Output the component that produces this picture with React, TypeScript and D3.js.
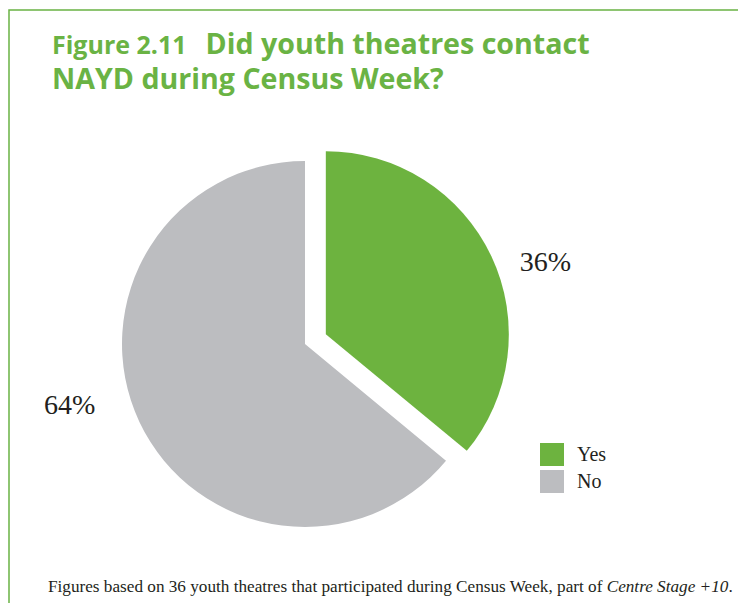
import { useEffect, useRef } from 'react';
import * as d3 from 'd3';

const categories = ['Yes', 'No'];
const values = [36, 64];
const colors = ['#6db33f', '#bcbdc0'];
const titleLead = 'Figure 2.11';
const titleLine1 = 'Did youth theatres contact';
const titleLine2 = 'NAYD during Census Week?';
const noteText = 'Figures based on 36 youth theatres that participated during Census Week, part of ';
const noteItalic = 'Centre Stage +10';

export default function App() {
	const ref = useRef<SVGSVGElement | null>(null);

	useEffect(() => {
		if (!ref.current) return;
		const svg = d3.select(ref.current);
		svg.selectAll('*').remove();

		const green = '#6ab344';

		// frame
		svg.append('path')
			.attr('d', 'M9,603 V10 H738')
			.attr('fill', 'none')
			.attr('stroke', green)
			.attr('stroke-width', 1.5);

		// title
		const title = svg.append('text')
			.attr('x', 52)
			.attr('y', 54)
			.attr('fill', green)
			.attr('font-family', '"Open Sans", sans-serif')
			.attr('font-weight', 700);
		title.append('tspan').attr('font-size', 25).text(titleLead);
		title.append('tspan').attr('dx', 19).attr('font-size', 28.6).text(titleLine1);
		svg.append('text')
			.attr('x', 52)
			.attr('y', 89)
			.attr('fill', green)
			.attr('font-family', '"Open Sans", sans-serif')
			.attr('font-weight', 700)
			.attr('font-size', 28.6)
			.text(titleLine2);

		// pie
		const cx = 305, cy = 344, r = 183, explode = 23;
		const pie = d3.pie<number>().sort(null).value(d => d);
		const arcs = pie(values);
		const arc = d3.arc<d3.PieArcDatum<number>>().innerRadius(0).outerRadius(r);
		const g = svg.append('g').attr('transform', `translate(${cx},${cy})`);
		g.selectAll('path')
			.data(arcs)
			.join('path')
			.attr('d', arc)
			.attr('fill', (_, i) => colors[i])
			.attr('transform', (d, i) => {
				if (i !== 0) return null;
				const a = (d.startAngle + d.endAngle) / 2;
				return `translate(${Math.sin(a) * explode},${-Math.cos(a) * explode})`;
			});

		// percentage labels (radius and angle shift from slice bisector)
		const labelPos = [
			{ r: 253, shift: 7 },
			{ r: 244, shift: 10 },
		];
		const labelAngle = (d: d3.PieArcDatum<number>, i: number) =>
			(d.startAngle + d.endAngle) / 2 + (labelPos[i].shift * Math.PI) / 180;
		g.selectAll('text.pct')
			.data(arcs)
			.join('text')
			.attr('class', 'pct')
			.attr('x', (d, i) => Math.sin(labelAngle(d, i)) * labelPos[i].r)
			.attr('y', (d, i) => -Math.cos(labelAngle(d, i)) * labelPos[i].r)
			.attr('text-anchor', 'middle')
			.attr('dominant-baseline', 'middle')
			.attr('font-family', '"Liberation Serif", serif')
			.attr('font-size', 28)
			.attr('fill', '#231f20')
			.text(d => `${d.data}%`);

		// legend
		const lg = svg.append('g').attr('transform', 'translate(540,443)');
		categories.forEach((c, i) => {
			lg.append('rect')
				.attr('x', 0)
				.attr('y', i * 27)
				.attr('width', 24)
				.attr('height', 23)
				.attr('fill', colors[i]);
			lg.append('text')
				.attr('x', 37)
				.attr('y', i * 27 + 18)
				.attr('font-family', '"Liberation Serif", serif')
				.attr('font-size', 20)
				.attr('fill', '#231f20')
				.text(c);
		});

		// footnote
		const note = svg.append('text')
			.attr('x', 48)
			.attr('y', 592)
			.attr('font-family', '"Liberation Serif", serif')
			.attr('font-size', 17.2)
			.attr('fill', '#231f20');
		note.append('tspan').text(noteText);
		note.append('tspan').attr('font-style', 'italic').text(noteItalic);
		note.append('tspan').text('.');
	}, []);

	return (
		<svg
			ref={ref}
			width={738}
			height={603}
			style={{ position: 'absolute', left: 0, top: 0, background: '#fff' }}
		/>
	);
}
